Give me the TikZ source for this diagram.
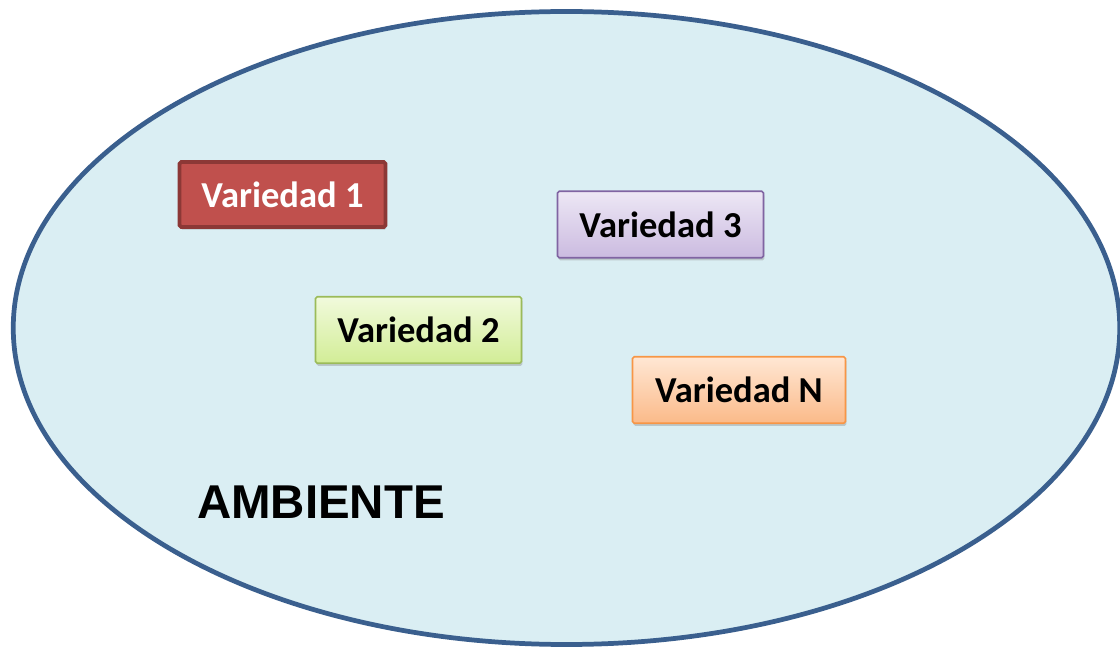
\documentclass[tikz,border=0pt]{standalone}
\usepackage{fontspec}
\setmainfont{Carlito}
\newfontfamily\arialfont{Liberation Sans}
\usepackage{tikz}
\usetikzlibrary{shapes.geometric, shadows}
\definecolor{ambfill}{HTML}{DAEEF3}
\definecolor{ambdraw}{HTML}{3A5F8E}
\tikzstyle{ambiente} = [ellipse, 
minimum width=22.13cm, 
minimum height=12.66cm,
draw=ambdraw, 
line width=2.7pt,
fill=ambfill]
\tikzstyle{variedad} = [rectangle, 
rounded corners=1pt, 
minimum height=1.33cm, 
text centered, 
font=\bfseries\fontsize{20.8}{24}\selectfont,
drop shadow={shadow xshift=0.5pt, shadow yshift=-1.5pt, opacity=0.35}]
\tikzstyle{var1} = [variedad, 
minimum width=4.12cm, 
minimum height=1.3cm,
draw={rgb,255:red,140;green,56;blue,54}, 
line width=2.2pt,
fill={rgb,255:red,192;green,80;blue,77},
text=white]
\tikzstyle{var2} = [variedad, 
minimum width=4.12cm, 
draw={rgb,255:red,155;green,187;blue,89},
line width=0.9pt,
top color={rgb,255:red,241;green,250;blue,220},
bottom color={rgb,255:red,210;green,237;blue,150}]
\tikzstyle{var3} = [variedad, 
minimum width=4.12cm, 
draw={rgb,255:red,128;green,100;blue,162},
line width=0.9pt,
top color={rgb,255:red,237;green,231;blue,245},
bottom color={rgb,255:red,203;green,187;blue,224}]
\tikzstyle{varn} = [variedad, 
minimum width=4.26cm, 
draw={rgb,255:red,247;green,150;blue,70},
line width=0.9pt,
top color={rgb,255:red,255;green,231;blue,212},
bottom color={rgb,255:red,251;green,186;blue,137}]

\begin{document}
\begin{tikzpicture}
		\useasboundingbox (0,0) rectangle (22.4,-12.94);
		\node (amb) [ambiente] at (11.33,-6.56) {};
		\node (v1) [var1] at (5.65,-3.89) {Variedad 1};
		\node (v3) [var3] at (13.21,-4.49) {Variedad 3};
		\node (v2) [var2] at (8.37,-6.6) {Variedad 2};
		\node (vn) [varn] at (14.78,-7.8) {Variedad N};
		\node (lbl) at (6.42,-10.05) {\arialfont\bfseries\fontsize{27}{30}\selectfont AMBIENTE};
	\end{tikzpicture}
\end{document}
